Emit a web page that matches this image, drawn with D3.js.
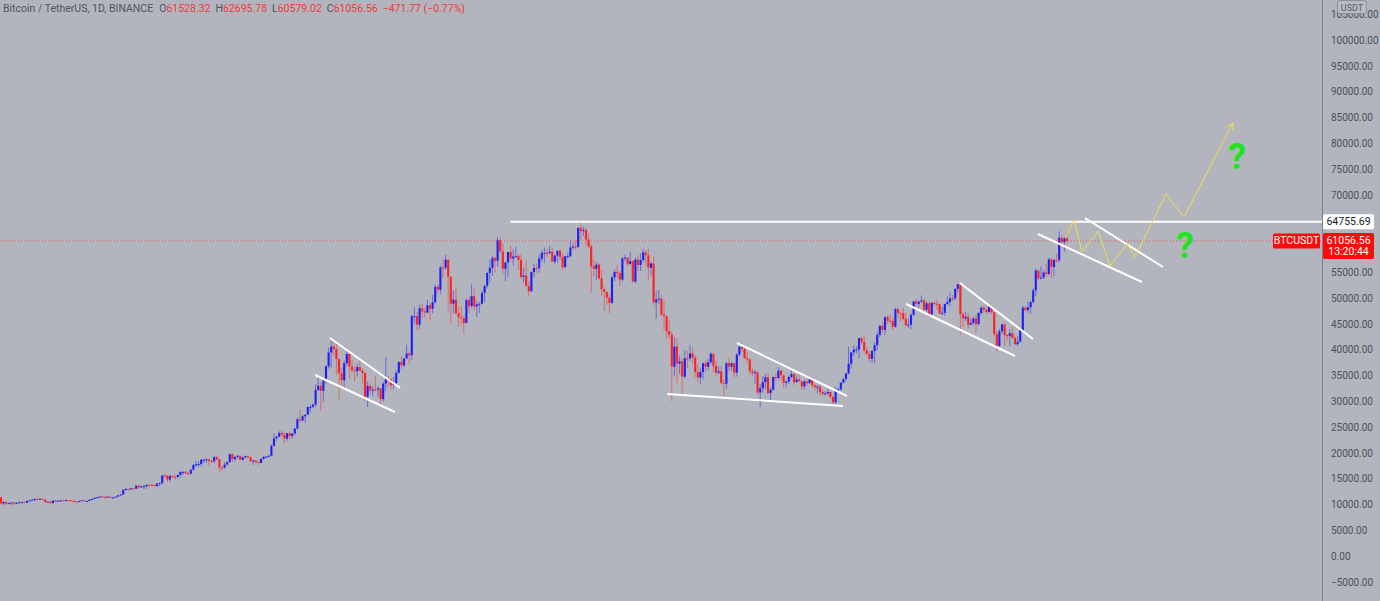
<!DOCTYPE html>
<html><head><meta charset="utf-8">
<script src="https://cdn.jsdelivr.net/npm/d3@7"></script>
<style>
html,body{margin:0;padding:0;background:#b2b5be;overflow:hidden}
svg{display:block}
text{font-family:Roboto,"Liberation Sans",sans-serif}
</style></head><body>
<svg id="chart" width="1380" height="601"></svg>
<script>
// ---- Data: BTCUSDT daily, 2020-09-03 .. 2021-10-18, prices in thousands USDT ----
const startDate = "2020-09-03";
const firstOpen = 11.39;
const closes = [
// Sep 2020 (3-30)
10.17,10.47,10.17,10.25,10.37,10.13,10.34,10.39,10.44,10.33,10.68,10.79,10.95,11.08,10.94,11.09,10.92,10.42,10.53,10.24,10.74,10.69,10.73,10.78,10.70,10.84,10.78,10.62,
// Oct 2020
10.57,10.55,10.67,10.79,10.60,10.67,10.92,11.05,11.30,11.37,11.53,11.43,11.42,11.50,11.33,11.36,11.50,11.75,11.91,12.82,12.99,12.93,13.13,13.03,13.64,13.28,13.46,13.56,13.80,13.76,13.74,
// Nov 2020
13.55,14.03,14.15,15.59,15.58,14.83,15.48,15.33,15.31,15.70,16.29,16.32,16.07,15.96,16.72,17.65,17.80,17.82,18.66,18.68,18.72,18.42,18.37,19.15,18.72,17.15,17.14,17.72,18.18,19.70,
// Dec 2020
18.77,19.22,19.42,18.65,19.15,19.36,19.17,18.32,18.54,18.25,18.03,18.80,19.17,19.27,19.43,21.34,22.80,23.14,23.87,23.48,22.74,23.82,23.24,23.73,24.71,26.49,26.28,27.08,27.39,28.88,28.92,
// Jan 2021
29.33,32.18,33.00,31.99,33.95,36.77,39.43,40.58,40.09,38.15,35.40,34.05,37.37,39.15,36.74,36.01,35.82,36.63,35.89,35.47,30.85,32.95,32.08,32.26,32.25,32.51,30.40,33.40,34.27,34.26,33.11,
// Feb 2021
33.52,35.48,37.62,36.94,38.29,39.25,38.90,46.44,46.51,44.84,47.99,47.41,47.19,48.59,47.94,49.17,52.15,51.60,55.91,55.89,57.41,54.09,48.89,49.68,47.08,46.28,46.10,45.14,
// Mar 2021
49.59,48.44,50.35,48.37,48.75,48.88,50.97,52.38,54.88,55.85,57.77,57.22,61.19,59.00,55.64,56.90,58.91,57.65,58.03,58.10,57.35,54.08,54.34,52.30,51.29,55.03,55.84,55.78,57.63,58.73,58.74,
// Apr 2021
58.72,58.95,57.06,58.20,59.13,57.99,56.00,58.09,58.09,59.78,59.98,59.86,63.58,62.96,63.16,61.33,60.00,56.15,55.66,56.47,53.80,51.70,51.19,50.09,49.07,54.01,55.03,54.82,53.56,57.70,
// May 2021
57.83,56.57,57.17,53.20,57.44,56.40,57.36,58.84,58.28,55.86,56.70,49.15,49.72,49.88,46.76,46.45,43.54,42.85,36.69,40.57,37.29,37.72,34.77,38.31,38.30,39.24,38.44,35.69,34.59,35.65,37.34,
// Jun 2021
36.69,37.57,39.19,36.83,35.52,35.80,33.55,33.38,37.39,36.69,37.34,35.55,39.02,40.52,40.14,38.35,38.09,35.82,35.48,35.60,31.68,32.51,33.68,34.66,31.57,32.24,34.70,34.50,35.91,35.04,
// Jul 2021
33.57,33.80,34.69,35.29,33.69,34.22,33.86,32.88,33.81,33.51,34.26,33.09,32.73,32.82,31.78,31.39,31.53,31.78,30.84,29.79,32.14,32.29,33.59,34.29,35.40,37.27,39.46,40.00,40.02,42.21,41.46,
// Aug 2021
39.85,39.15,38.21,39.72,40.87,42.84,44.61,43.82,46.29,45.60,45.57,44.43,47.83,47.10,47.05,45.96,44.70,44.84,46.72,49.34,48.87,49.28,49.51,47.71,48.99,46.85,49.07,48.90,48.80,46.99,47.11,
// Sep 2021
48.85,49.25,49.94,49.93,51.76,52.66,46.86,46.05,46.39,44.84,45.17,46.03,44.95,47.10,48.12,47.74,47.29,48.29,47.24,43.00,40.70,43.56,44.89,42.81,42.67,43.17,42.24,41.03,41.52,43.79,
// Oct 2021 (1-18)
48.14,47.64,48.20,49.22,51.47,55.32,53.79,53.95,54.95,54.66,57.47,56.00,57.37,57.35,61.67,60.875,61.52832,61.05656
];
const highs = [
11.46,10.63,10.57,10.35,10.40,10.44,10.35,10.59,10.45,10.48,10.72,10.83,11.00,11.10,11.18,11.13,11.18,10.99,10.58,10.55,10.77,10.80,10.77,10.80,10.80,10.96,10.86,10.80,
10.92,10.60,10.69,10.80,10.82,10.71,10.95,11.10,11.33,11.46,11.55,11.72,11.56,11.55,11.51,11.42,11.51,11.78,12.00,12.93,13.21,13.03,13.20,13.17,13.76,13.86,13.60,13.80,13.84,13.87,14.10,
13.80,14.10,14.24,15.75,15.97,15.70,15.80,15.65,15.82,15.82,16.48,16.34,16.48,16.15,16.85,17.85,18.48,18.40,18.82,18.78,18.96,18.77,18.77,19.40,19.48,18.95,17.46,18.18,18.35,19.86,
19.89,19.30,19.53,19.50,19.17,19.42,19.40,19.29,18.64,18.56,18.29,18.95,19.41,19.35,19.57,21.56,23.80,23.28,24.17,24.30,24.10,23.84,24.10,23.79,24.79,26.87,28.42,27.41,27.39,28.99,29.30,
29.60,33.30,34.79,33.60,34.36,36.94,40.37,41.95,41.38,41.35,38.26,36.60,37.85,40.10,39.74,37.95,36.85,37.30,37.84,36.42,35.60,33.83,33.46,32.94,34.88,32.92,32.56,33.78,38.53,34.93,34.29,
34.72,35.98,37.66,38.71,38.31,40.96,39.70,46.79,48.20,47.31,48.68,48.99,48.15,49.71,49.00,50.60,52.62,52.55,56.37,57.50,58.35,57.53,54.18,51.38,52.04,48.37,48.39,46.70,
49.83,50.20,52.64,51.77,49.45,49.20,51.45,52.40,54.90,57.39,58.15,58.06,61.84,61.68,60.63,56.94,58.98,60.10,59.45,59.88,58.60,58.42,55.84,57.20,53.24,55.07,56.64,56.56,58.40,59.37,59.80,
59.47,60.04,59.75,58.49,59.25,59.47,58.65,58.15,58.89,61.22,60.69,61.20,63.77,64.85,63.82,63.59,62.57,60.41,57.53,57.00,56.76,55.46,52.13,51.17,50.59,54.36,55.46,56.43,55.19,57.96,
58.45,57.92,58.98,57.20,57.90,58.36,58.65,59.50,59.30,59.60,57.00,58.00,51.37,51.56,50.69,49.80,46.64,45.80,43.55,42.45,42.20,38.86,38.27,39.92,39.80,40.90,40.41,38.85,37.34,36.48,37.50,
37.90,38.23,39.48,39.29,37.92,36.79,36.80,34.07,37.53,38.40,37.69,37.44,39.32,41.06,41.33,40.53,39.56,38.20,36.46,36.13,35.75,33.30,34.88,35.30,35.50,32.71,34.75,35.30,36.60,36.10,
35.04,33.94,34.95,35.94,35.30,35.06,35.10,33.93,34.10,34.26,34.60,34.68,33.34,33.13,33.19,32.25,31.94,32.44,31.90,31.06,32.86,32.60,33.65,34.49,35.40,40.55,39.54,40.90,40.64,42.32,42.41,
42.60,40.45,39.77,39.97,41.35,43.39,44.70,45.31,46.45,46.70,46.74,46.22,48.14,48.17,47.40,48.05,47.16,46.00,47.07,49.38,49.76,49.50,50.50,49.88,49.27,49.34,49.17,49.30,49.65,48.91,48.25,
48.94,50.34,51.04,50.56,51.90,52.78,52.92,47.36,47.35,47.03,45.99,46.46,46.88,47.25,48.48,48.50,48.17,48.83,48.37,47.33,43.64,44.00,44.98,45.20,42.96,43.94,44.35,42.77,42.60,44.13,
48.50,48.36,49.30,49.50,51.89,55.75,55.33,56.10,55.49,56.56,57.84,57.68,57.58,58.53,62.93,62.38,61.72,62.69578
];
const lows = [
10.00,9.88,9.82,10.09,9.88,9.85,10.08,10.26,10.20,10.30,10.28,10.55,10.65,10.67,10.75,10.82,10.89,10.36,10.37,10.14,10.20,10.63,10.55,10.69,10.64,10.70,10.67,10.56,
10.43,10.37,10.50,10.66,10.52,10.53,10.66,10.82,11.00,11.28,11.36,11.40,11.35,11.28,11.27,11.22,11.33,11.48,11.70,11.88,12.65,12.72,12.85,12.95,13.05,13.12,13.20,12.95,13.05,13.43,13.62,
13.50,13.40,13.52,13.80,15.16,14.34,14.36,15.10,14.80,15.05,15.28,15.70,15.85,15.71,15.80,16.56,17.21,17.20,17.33,18.00,18.06,17.55,18.04,18.00,18.56,16.33,16.44,16.88,17.51,18.18,
18.19,18.33,18.86,18.57,18.50,18.86,18.90,18.20,17.65,17.91,17.57,18.00,18.70,19.00,19.05,19.28,21.23,22.35,23.06,23.07,21.81,22.35,22.60,22.70,23.44,24.50,25.86,26.08,25.82,27.32,27.85,
28.62,28.95,31.99,28.13,29.90,33.29,36.30,36.50,38.72,35.11,30.42,32.53,32.38,36.70,34.41,35.36,33.85,34.80,35.85,33.40,30.07,28.85,31.39,30.90,31.91,30.84,29.24,29.85,31.92,32.83,32.30,
32.30,33.42,35.39,36.16,36.57,38.21,37.35,38.05,45.03,43.73,44.00,46.12,46.20,47.05,45.57,47.03,48.95,50.90,50.71,53.86,55.48,47.40,44.89,47.00,46.72,44.45,45.00,43.00,
45.11,47.05,48.10,47.50,46.30,47.07,48.88,49.27,51.84,53.03,54.27,54.96,56.08,58.97,54.57,53.27,54.12,57.02,56.27,57.82,55.45,53.65,53.00,52.23,50.30,51.23,53.96,54.69,54.90,57.00,56.77,
57.94,58.45,57.00,56.48,56.79,57.35,55.47,55.70,57.64,57.89,59.37,59.36,59.80,61.30,62.02,60.00,59.60,50.93,54.22,53.42,53.60,50.40,47.50,48.75,47.04,48.81,53.22,53.88,52.33,53.13,
57.05,56.04,56.48,53.05,52.90,55.20,55.24,56.87,56.24,53.40,54.37,48.60,46.00,48.87,46.55,43.83,42.00,42.25,30.00,34.85,33.49,35.26,31.11,34.35,36.42,37.80,37.20,34.68,33.63,33.38,34.23,
35.67,35.92,37.17,35.57,34.80,35.26,33.34,31.00,32.40,35.80,35.96,34.60,34.76,38.73,39.51,38.12,37.37,35.13,34.82,33.35,31.25,28.81,31.68,32.30,31.30,30.15,32.00,33.86,34.23,34.00,
32.71,32.70,33.33,34.39,33.13,33.53,33.78,32.11,32.26,33.00,33.32,32.66,32.20,31.60,31.13,31.02,31.18,31.10,30.50,29.28,29.48,31.72,32.00,33.40,33.85,35.21,36.40,38.77,39.22,38.32,41.00,
39.42,38.69,37.64,37.51,37.33,39.88,42.45,43.26,42.80,44.90,45.34,43.77,44.25,45.97,45.51,45.68,44.38,44.21,43.96,46.63,48.28,48.12,49.05,47.60,47.14,46.33,46.36,48.37,47.76,46.86,46.70,
46.51,48.60,48.35,49.40,49.50,50.94,42.84,44.41,45.52,44.10,44.73,44.76,43.37,44.68,46.70,47.05,46.78,47.05,46.85,42.50,39.60,40.55,43.08,40.67,41.65,40.75,42.10,40.90,40.75,41.40,
43.28,47.40,47.10,46.90,49.00,50.38,53.36,53.60,53.66,54.09,54.42,53.88,54.25,56.82,56.85,60.15,58.96,60.57902
];

// Axis tick labels shown (thousands); 60k and 65k are hidden behind the price labels
const tickValues = [-5,0,5,10,15,20,25,30,35,40,45,50,55,70,75,80,85,90,95,100,105];

// Drawn annotations: [dayIndex, price(k)]
const resistance = { price: 64.75569, fromIdx: 196 };
const whiteTrendLines = [
  [[126.5,42.25],[153.5,32.56]],
  [[120.8,35.08],[151.5,27.91]],
  [[283.1,41.28],[325.4,31.01]],
  [[256.2,31.40],[323.8,29.07]],
  [[368.8,52.91],[396.9,42.05]],
  [[348.1,48.84],[390.0,38.76]],
  [[398.8,62.40],[438.8,53.10]],
  [[416.9,65.50],[446.9,56.01]]
];
const projectionPath = [
  [409.6,61.82],[412.7,65.12],[415.8,58.91],[421.9,62.98],[426.5,56.20],
  [433.1,60.47],[436.2,57.95],[448.1,70.16],[455.0,65.70],[473.8,83.91]
];
const questionMarks = [[475.4,77.33],[455.4,60.08]];

const header = { title:"Bitcoin / TetherUS, 1D, BINANCE", o:"61528.32", h:"62695.78", l:"60579.02", c:"61056.56", chg:"\u2212471.77 (\u22120.77%)" };
const lastPriceLabel = "61056.56", countdown = "13:20:44", symbol = "BTCUSDT";

// ---- Layout ----
const W = 1380, H = 601, axisX = 1322;
const svg = d3.select("#chart");
const x = d3.scaleLinear().domain([0, closes.length - 1]).range([1, 1067]);
const y = d3.scaleLinear().domain([0, 100]).range([556, 40]);
const fmt = v => (v*1000).toFixed(2).replace("-", "\u2212");

svg.append("rect").attr("width", W).attr("height", H).attr("fill", "#b2b5be");
svg.append("defs").append("clipPath").attr("id","plot").append("rect")
  .attr("x",0).attr("y",0).attr("width",axisX).attr("height",H);
const plot = svg.append("g").attr("clip-path","url(#plot)");

// candles
const UP = "#1f1ff5", DOWN = "#ff2121";
const candles = closes.map((c, i) => {
  const o = i === 0 ? firstOpen : closes[i-1];
  return { i, o, c, h: highs[i], l: lows[i], up: c >= o };
});
const cg = plot.append("g");
cg.selectAll("line.wick").data(candles).join("line").attr("class","wick")
  .attr("x1", d => x(d.i)).attr("x2", d => x(d.i))
  .attr("y1", d => y(Math.max(d.h, d.o, d.c))).attr("y2", d => y(Math.min(d.l, d.o, d.c)))
  .attr("stroke", d => d.up ? UP : DOWN).attr("stroke-opacity", 0.5).attr("stroke-width", 1);
cg.selectAll("rect.body").data(candles).join("rect").attr("class","body")
  .attr("x", d => x(d.i) - 1.05).attr("width", 2.1)
  .attr("y", d => y(Math.max(d.o, d.c)))
  .attr("height", d => Math.max(1, Math.abs(y(d.o) - y(d.c))))
  .attr("fill", d => d.up ? UP : DOWN);

// price line (dotted)
const last = closes[closes.length-1];
plot.append("line").attr("x1",0).attr("x2",axisX).attr("y1",y(last)).attr("y2",y(last))
  .attr("stroke","#ff3030").attr("stroke-opacity",0.75).attr("stroke-width",1).attr("stroke-dasharray","1,2");

// resistance horizontal
plot.append("line").attr("x1", x(resistance.fromIdx)).attr("x2", axisX)
  .attr("y1", y(resistance.price)).attr("y2", y(resistance.price))
  .attr("stroke","#ffffff").attr("stroke-width",2);

// trend lines
const lineGen = d3.line().x(d => x(d[0])).y(d => y(d[1]));
plot.selectAll("path.trend").data(whiteTrendLines).join("path").attr("class","trend")
  .attr("d", lineGen).attr("fill","none").attr("stroke","#ffffff").attr("stroke-width",2);

// projection zigzag
plot.append("path").attr("d", lineGen(projectionPath)).attr("fill","none")
  .attr("stroke","#f2de4a").attr("stroke-width",1);
// arrow head
const pA = projectionPath[projectionPath.length-2], pB = projectionPath[projectionPath.length-1];
const ax = x(pB[0]), ay = y(pB[1]);
const ang = Math.atan2(ay - y(pA[1]), ax - x(pA[0]));
const hl = 7;
plot.append("path")
  .attr("d", `M${ax - hl*Math.cos(ang-0.5)},${ay - hl*Math.sin(ang-0.5)}L${ax},${ay}L${ax - hl*Math.cos(ang+0.5)},${ay - hl*Math.sin(ang+0.5)}`)
  .attr("fill","none").attr("stroke","#f2de4a").attr("stroke-width",1);

// question marks
plot.selectAll("text.q").data(questionMarks).join("text").attr("class","q")
  .attr("x", d => x(d[0])).attr("y", d => y(d[1]))
  .attr("text-anchor","middle").attr("dominant-baseline","central")
  .attr("font-family","'DejaVu Sans',sans-serif").attr("font-weight","bold")
  .attr("font-size",36).attr("fill","#1fe51f").text("?");

// right axis
svg.append("line").attr("x1",axisX+0.5).attr("x2",axisX+0.5).attr("y1",0).attr("y2",H)
  .attr("stroke","#7c7f88").attr("stroke-width",1);
const axis = d3.axisRight(y).tickValues(tickValues).tickFormat(fmt).tickSize(0).tickPadding(9);
const ag = svg.append("g").attr("transform",`translate(${axisX},0)`).call(axis);
ag.select(".domain").remove();
ag.selectAll("text").attr("fill","#4c4f59").attr("font-size",10)
  .attr("font-family","Roboto,'Liberation Sans',sans-serif");

// resistance price label
const ry = y(resistance.price);
svg.append("rect").attr("x",axisX+1).attr("y",ry-7.5).attr("width",51).attr("height",15).attr("rx",1.5).attr("fill","#ffffff");
svg.append("text").attr("x",axisX+26.5).attr("y",ry).attr("text-anchor","middle").attr("dominant-baseline","central")
  .attr("font-size",10.5).attr("fill","#131722").text(fmt(resistance.price));

// last price label
const ly = y(last);
svg.append("rect").attr("x",axisX+1).attr("y",ly-8).attr("width",51).attr("height",26).attr("rx",1.5).attr("fill","#ff0a0a");
svg.append("text").attr("x",axisX+26.5).attr("y",ly).attr("text-anchor","middle").attr("dominant-baseline","central")
  .attr("font-size",10.5).attr("fill","#ffffff").text(lastPriceLabel);
svg.append("text").attr("x",axisX+26.5).attr("y",ly+11).attr("text-anchor","middle").attr("dominant-baseline","central")
  .attr("font-size",10.5).attr("fill","#ffffff").text(countdown);
svg.append("rect").attr("x",axisX-49).attr("y",ly-7.5).attr("width",47).attr("height",15).attr("rx",1.5).attr("fill","#ff0a0a");
svg.append("text").attr("x",axisX-25.5).attr("y",ly).attr("text-anchor","middle").attr("dominant-baseline","central")
  .attr("font-size",10.5).attr("fill","#ffffff").text(symbol);

// USDT badge
svg.append("rect").attr("x",1337.5).attr("y",0.5).attr("width",29).attr("height",13).attr("rx",2)
  .attr("fill","#b8bbc3").attr("stroke","#8d9099");
svg.append("text").attr("x",1352).attr("y",7.5).attr("text-anchor","middle").attr("dominant-baseline","central")
  .attr("font-size",9).attr("fill","#5d606b").text("USDT");

// header
const gray = "#50535e", red = "#f23a3a";
const ht = svg.append("text").attr("x",3).attr("y",12).attr("font-size",10.5);
ht.append("tspan").attr("fill",gray).text(header.title);
[["O",header.o],["H",header.h],["L",header.l],["C",header.c]].forEach((p,k) => {
  ht.append("tspan").attr("fill",gray).attr("dx", k===0 ? 6 : 5).text(p[0]);
  ht.append("tspan").attr("fill",red).text(p[1]);
});
ht.append("tspan").attr("fill",red).attr("dx",5).text(header.chg);
</script>
</body></html>
